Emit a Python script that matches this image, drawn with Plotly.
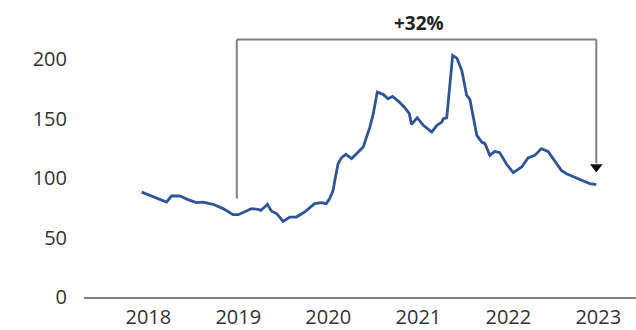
import plotly.graph_objects as go

# Weekly-ish price index series
dates = [
    "2017-12-05", "2018-01-08", "2018-02-10", "2018-03-16", "2018-04-05", "2018-05-09",
    "2018-06-11", "2018-07-15", "2018-08-11", "2018-09-21", "2018-10-31", "2018-12-11",
    "2019-01-01", "2019-02-03", "2019-02-23", "2019-03-22", "2019-04-02", "2019-04-18",
    "2019-04-29", "2019-05-15", "2019-06-05", "2019-06-18", "2019-07-02", "2019-07-29",
    "2019-08-25", "2019-09-27", "2019-11-07", "2019-12-04", "2019-12-24", "2020-01-07",
    "2020-01-21", "2020-01-28", "2020-02-10", "2020-02-24", "2020-03-13", "2020-04-05",
    "2020-04-25", "2020-05-22", "2020-06-18", "2020-07-02", "2020-07-18", "2020-08-11",
    "2020-08-31", "2020-09-18", "2020-10-11", "2020-11-07", "2020-11-25", "2020-12-04",
    "2020-12-27", "2021-01-21", "2021-02-24", "2021-03-17", "2021-04-06", "2021-04-12",
    "2021-04-26", "2021-05-03", "2021-05-09", "2021-05-20", "2021-06-06", "2021-06-26",
    "2021-07-16", "2021-07-29", "2021-08-26", "2021-09-15", "2021-09-28", "2021-10-18",
    "2021-11-07", "2021-11-27", "2021-12-25", "2022-01-21", "2022-02-24", "2022-03-22",
    "2022-04-18", "2022-05-15", "2022-06-11", "2022-07-08", "2022-08-04", "2022-08-25",
    "2022-10-04", "2022-11-27", "2022-12-24",
]
values = [
    88.3, 85.6, 82.8, 79.9, 85.0, 85.0,
    82.0, 79.4, 79.9, 78.0, 74.4, 69.3,
    69.3, 72.4, 74.4, 73.8, 72.9, 75.7,
    78.0, 72.4, 70.2, 67.3, 63.7, 67.3,
    67.3, 71.5, 78.6, 79.4, 78.6, 82.8,
    89.8, 98.2, 112.2, 117.3, 120.1, 116.5,
    120.7, 126.2, 143.0, 154.3, 172.5, 170.6,
    166.9, 168.9, 164.9, 159.4, 154.3, 145.3,
    150.9, 144.5, 138.8, 144.5, 147.2, 150.1,
    150.8, 165.5, 178.1, 203.4, 201.1, 190.7,
    169.7, 166.3, 136.1, 130.4, 129.1, 119.2,
    122.6, 121.5, 111.7, 104.7, 109.4, 117.1,
    119.2, 124.9, 122.6, 115.0, 106.6, 103.8,
    100.1, 95.4, 94.6,
]

# Axis ticks
year_ticks = ["2018-01-01", "2019-01-01", "2020-01-01", "2021-01-01", "2022-01-01", "2023-01-01"]
year_labels = ["2018", "2019", "2020", "2021", "2022", "2023"]
y_ticks = [0, 50, 100, 150, 200]

# Change bracket (start -> end)
bracket_start = "2018-12-26"
bracket_end = "2022-12-24"
bracket_low = 82.8
bracket_top = 216.8
arrow_tip = 109.5
change_label = "+32%"
change_label_pos = ("2021-01-04", 231)

LINE_BLUE = "#2F5597"
GRAY = "#808080"
TEXT = "#333333"
FONT = "Open Sans"

fig = go.Figure()

fig.add_trace(go.Scatter(
    x=dates, y=values, mode="lines",
    line=dict(color=LINE_BLUE, width=2.8),
    hoverinfo="skip", showlegend=False,
))

# Arrow head at the end of the bracket
fig.add_trace(go.Scatter(
    x=[bracket_end], y=[arrow_tip], mode="markers",
    marker=dict(symbol="triangle-down", size=11, color="#111111", line=dict(width=0)),
    hoverinfo="skip", showlegend=False,
))

# Bracket: up from start, across, down towards the arrow head
fig.add_shape(type="line", xref="x", yref="y",
              x0=bracket_start, x1=bracket_start, y0=bracket_low, y1=bracket_top,
              line=dict(color=GRAY, width=2))
fig.add_shape(type="line", xref="x", yref="y",
              x0=bracket_start, x1=bracket_end, y0=bracket_top, y1=bracket_top,
              line=dict(color=GRAY, width=2))
fig.add_shape(type="line", xref="x", yref="y",
              x0=bracket_end, x1=bracket_end, y0=bracket_top, y1=arrow_tip + 3,
              line=dict(color=GRAY, width=2))

fig.add_annotation(x=change_label_pos[0], y=change_label_pos[1], text="<b>" + change_label + "</b>",
                   showarrow=False, font=dict(family=FONT, size=19, color="#222222"),
                   xanchor="center", yanchor="middle")

fig.update_layout(
    width=636, height=330,
    margin=dict(l=84, r=0, t=0, b=33),
    paper_bgcolor="white", plot_bgcolor="white",
    font=dict(family=FONT, color=TEXT),
    xaxis=dict(
        type="date",
        range=["2017-04-15", "2023-06-03"],
        tickvals=year_ticks, ticktext=year_labels,
        tickfont=dict(family=FONT, size=20, color=TEXT),
        showgrid=False, zeroline=False,
        showline=True, linecolor=GRAY, linewidth=2,
        ticks="", ticklabelstandoff=1,
    ),
    yaxis=dict(
        range=[0, 250],
        tickvals=y_ticks,
        tickfont=dict(family=FONT, size=20, color=TEXT),
        showgrid=False, zeroline=False, showline=False,
        ticks="", ticklabelstandoff=16,
    ),
)

fig.write_html("out.html")
